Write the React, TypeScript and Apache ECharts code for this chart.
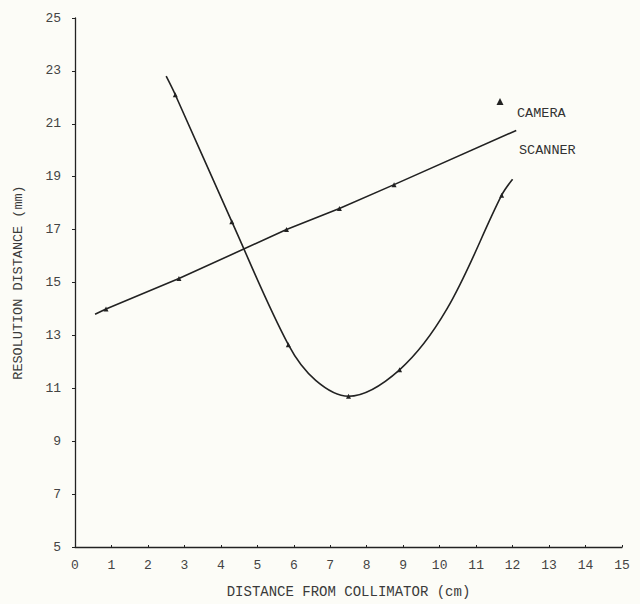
import React, { useEffect, useRef } from "react";
import * as echarts from "echarts";

const xTicks = [0, 15];
const yRange = [5, 25];
const scannerPts: [number, number][] = [
  [0.55, 13.8], [0.85, 14.0], [2.85, 15.15], [5.8, 17.0], [7.25, 17.8], [8.75, 18.7], [12.1, 20.75],
];
const scannerMarked = [false, true, true, true, true, true, false];
const cameraPts: [number, number][] = [
  [2.5, 22.8], [2.75, 22.1], [4.3, 17.3], [5.85, 12.65], [6.6, 11.3], [7.5, 10.7],
  [8.9, 11.7], [10.2, 14.0], [11.7, 18.3], [12.0, 18.9],
];
const cameraMarked = [false, true, true, true, false, true, true, false, true, false];

const FONT = "'Liberation Mono', 'DejaVu Sans Mono', monospace";
const INK = "#222";

export default function App() {
  const ref = useRef<HTMLDivElement>(null);
  useEffect(() => {
    if (!ref.current) return;
    const chart = echarts.init(ref.current, undefined, { renderer: "svg" });
    const mk = (pts: [number, number][], marked: boolean[]) =>
      pts.map((p, i) => ({
        value: p,
        symbol: marked[i] ? "triangle" : "none",
        symbolSize: marked[i] ? 5 : 0,
      }));
    chart.setOption({
      animation: false,
      backgroundColor: "#fcfcf7",
      grid: { left: 75, right: 18, top: 18, bottom: 51 },
      xAxis: {
        type: "value",
        min: xTicks[0],
        max: xTicks[1],
        interval: 1,
        name: "DISTANCE FROM COLLIMATOR (cm)",
        nameLocation: "middle",
        nameGap: 38,
        nameTextStyle: { fontFamily: FONT, fontSize: 14, color: "#3a3a3a" },
        axisLine: { lineStyle: { color: INK, width: 1.3 } },
        axisTick: { show: true, length: 2, inside: true, lineStyle: { color: INK } },
        axisLabel: { fontFamily: FONT, fontSize: 13, color: "#444", margin: 12 },
        splitLine: { show: false },
      },
      yAxis: {
        type: "value",
        min: yRange[0],
        max: yRange[1],
        interval: 2,
        name: "RESOLUTION DISTANCE (mm)",
        nameLocation: "middle",
        nameGap: 50,
        nameRotate: 90,
        nameTextStyle: { fontFamily: FONT, fontSize: 13.5, color: "#3a3a3a" },
        axisLine: { show: true, lineStyle: { color: INK, width: 1.3 } },
        axisTick: { show: true, length: 3, lineStyle: { color: INK } },
        axisLabel: { fontFamily: FONT, fontSize: 13, color: "#444", margin: 14 },
        splitLine: { show: false },
      },
      series: [
        {
          name: "SCANNER",
          type: "line",
          data: mk(scannerPts, scannerMarked),
          lineStyle: { color: INK, width: 1.6 },
          itemStyle: { color: INK },
          showSymbol: true,
        },
        {
          name: "CAMERA",
          type: "line",
          smooth: 0.35,
          data: mk(cameraPts, cameraMarked),
          lineStyle: { color: INK, width: 1.6 },
          itemStyle: { color: INK },
          showSymbol: true,
        },
      ],
      graphic: [
        {
          type: "polygon",
          shape: { points: [[500, 98], [496.5, 105], [503.5, 105]] },
          style: { fill: INK },
        },
        {
          type: "text",
          x: 517,
          y: 106,
          style: { text: "CAMERA", font: `13.5px ${FONT}`, fill: "#333" },
        },
        {
          type: "text",
          x: 519,
          y: 143,
          style: { text: "SCANNER", font: `13.5px ${FONT}`, fill: "#333" },
        },
      ],
    });
    return () => chart.dispose();
  }, []);
  return <div ref={ref} style={{ width: 640, height: 604, position: "absolute", left: 0, top: 0 }} />;
}
